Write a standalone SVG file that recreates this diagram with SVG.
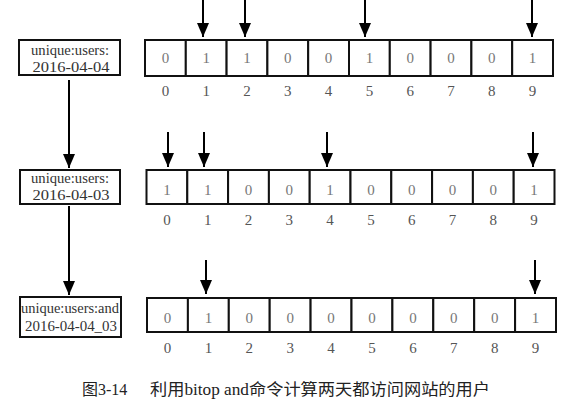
<svg xmlns="http://www.w3.org/2000/svg" width="582" height="413" viewBox="0 0 582 413">
<defs>
<marker id="ah" markerUnits="userSpaceOnUse" markerWidth="14" markerHeight="12" viewBox="0 0 14 12" refX="14" refY="6" orient="auto">
<path d="M0,0 L14,6 L0,12 Z" fill="#000"/>
</marker>
<style>
.cell{fill:#fff;stroke:#111;stroke-width:2}
.key{fill:#fff;stroke:#111;stroke-width:2}
text{font-family:'Liberation Serif','Times New Roman','DejaVu Serif',serif}
.v{font-size:15px;fill:#777;text-anchor:middle}
.i{font-size:15px;fill:#555;text-anchor:middle}
.k1{font-size:14px;fill:#333;text-anchor:middle}
.k2{font-size:15.5px;fill:#333;text-anchor:middle}
.arr{stroke:#000;stroke-width:2;fill:none}
.cap{font-family:'Liberation Serif','Noto Sans CJK SC',serif;font-size:16px;fill:#222}
</style>
</defs>
<rect width="582" height="413" fill="#fff"/>

<g id="key1">
<rect class="key" x="19" y="40" width="101" height="35"/>
<text class="k1" x="70" y="55" textLength="78" lengthAdjust="spacingAndGlyphs">unique:users:</text>
<text class="k2" x="71" y="72" textLength="77" lengthAdjust="spacingAndGlyphs">2016-04-04</text>
</g>
<g id="key2">
<rect class="key" x="20" y="170" width="100" height="34"/>
<text class="k1" x="70" y="183" textLength="78" lengthAdjust="spacingAndGlyphs">unique:users:</text>
<text class="k2" x="71" y="200" textLength="77" lengthAdjust="spacingAndGlyphs">2016-04-03</text>
</g>
<g id="key3">
<rect class="key" x="20" y="297" width="101" height="40"/>
<text class="k1" x="70" y="313" textLength="98" lengthAdjust="spacingAndGlyphs">unique:users:and</text>
<text class="k2" x="71" y="331" textLength="92" lengthAdjust="spacingAndGlyphs">2016-04-04_03</text>
</g>

<g id="row1">
<rect class="cell" x="145" y="40" width="40.8" height="36"/>
<rect class="cell" x="185.8" y="40" width="40.8" height="36"/>
<rect class="cell" x="226.6" y="40" width="40.8" height="36"/>
<rect class="cell" x="267.4" y="40" width="40.8" height="36"/>
<rect class="cell" x="308.2" y="40" width="40.8" height="36"/>
<rect class="cell" x="349" y="40" width="40.8" height="36"/>
<rect class="cell" x="389.8" y="40" width="40.8" height="36"/>
<rect class="cell" x="430.6" y="40" width="40.8" height="36"/>
<rect class="cell" x="471.4" y="40" width="40.8" height="36"/>
<rect class="cell" x="512.2" y="40" width="40.8" height="36"/>
<text class="v" x="165.4" y="63">0</text>
<text class="v" x="206.2" y="63">1</text>
<text class="v" x="247" y="63">1</text>
<text class="v" x="287.8" y="63">0</text>
<text class="v" x="328.6" y="63">0</text>
<text class="v" x="369.4" y="63">1</text>
<text class="v" x="410.2" y="63">0</text>
<text class="v" x="451" y="63">0</text>
<text class="v" x="491.8" y="63">0</text>
<text class="v" x="532.6" y="63">1</text>
<text class="i" x="165.4" y="96">0</text>
<text class="i" x="206.2" y="96">1</text>
<text class="i" x="247" y="96">2</text>
<text class="i" x="287.8" y="96">3</text>
<text class="i" x="328.6" y="96">4</text>
<text class="i" x="369.4" y="96">5</text>
<text class="i" x="410.2" y="96">6</text>
<text class="i" x="451" y="96">7</text>
<text class="i" x="491.8" y="96">8</text>
<text class="i" x="532.6" y="96">9</text>
</g>

<g id="row2">
<rect class="cell" x="146.5" y="170" width="40.8" height="34"/>
<rect class="cell" x="187.3" y="170" width="40.8" height="34"/>
<rect class="cell" x="228.1" y="170" width="40.8" height="34"/>
<rect class="cell" x="268.9" y="170" width="40.8" height="34"/>
<rect class="cell" x="309.7" y="170" width="40.8" height="34"/>
<rect class="cell" x="350.5" y="170" width="40.8" height="34"/>
<rect class="cell" x="391.3" y="170" width="40.8" height="34"/>
<rect class="cell" x="432.1" y="170" width="40.8" height="34"/>
<rect class="cell" x="472.9" y="170" width="40.8" height="34"/>
<rect class="cell" x="513.7" y="170" width="40.8" height="34"/>
<text class="v" x="166.9" y="195">1</text>
<text class="v" x="207.7" y="195">1</text>
<text class="v" x="248.5" y="195">0</text>
<text class="v" x="289.3" y="195">0</text>
<text class="v" x="330.1" y="195">1</text>
<text class="v" x="370.9" y="195">0</text>
<text class="v" x="411.7" y="195">0</text>
<text class="v" x="452.5" y="195">0</text>
<text class="v" x="493.3" y="195">0</text>
<text class="v" x="534.1" y="195">1</text>
<text class="i" x="166.9" y="225">0</text>
<text class="i" x="207.7" y="225">1</text>
<text class="i" x="248.5" y="225">2</text>
<text class="i" x="289.3" y="225">3</text>
<text class="i" x="330.1" y="225">4</text>
<text class="i" x="370.9" y="225">5</text>
<text class="i" x="411.7" y="225">6</text>
<text class="i" x="452.5" y="225">7</text>
<text class="i" x="493.3" y="225">8</text>
<text class="i" x="534.1" y="225">9</text>
</g>

<g id="row3">
<rect class="cell" x="147" y="298" width="40.9" height="34"/>
<rect class="cell" x="187.9" y="298" width="40.9" height="34"/>
<rect class="cell" x="228.8" y="298" width="40.9" height="34"/>
<rect class="cell" x="269.7" y="298" width="40.9" height="34"/>
<rect class="cell" x="310.6" y="298" width="40.9" height="34"/>
<rect class="cell" x="351.5" y="298" width="40.9" height="34"/>
<rect class="cell" x="392.4" y="298" width="40.9" height="34"/>
<rect class="cell" x="433.3" y="298" width="40.9" height="34"/>
<rect class="cell" x="474.2" y="298" width="40.9" height="34"/>
<rect class="cell" x="515.1" y="298" width="40.9" height="34"/>
<text class="v" x="167.5" y="323">0</text>
<text class="v" x="208.4" y="323">1</text>
<text class="v" x="249.3" y="323">0</text>
<text class="v" x="290.2" y="323">0</text>
<text class="v" x="331.1" y="323">0</text>
<text class="v" x="372" y="323">0</text>
<text class="v" x="412.9" y="323">0</text>
<text class="v" x="453.8" y="323">0</text>
<text class="v" x="494.7" y="323">0</text>
<text class="v" x="535.6" y="323">1</text>
<text class="i" x="167.5" y="353">0</text>
<text class="i" x="208.4" y="353">1</text>
<text class="i" x="249.3" y="353">2</text>
<text class="i" x="290.2" y="353">3</text>
<text class="i" x="331.1" y="353">4</text>
<text class="i" x="372" y="353">5</text>
<text class="i" x="412.9" y="353">6</text>
<text class="i" x="453.8" y="353">7</text>
<text class="i" x="494.7" y="353">8</text>
<text class="i" x="535.6" y="353">9</text>
</g>

<g id="connectors">
<line class="arr" x1="69" y1="80" x2="69" y2="168" marker-end="url(#ah)"/>
<line class="arr" x1="69" y1="206" x2="69" y2="295" marker-end="url(#ah)"/>
<line class="arr" x1="203" y1="0" x2="203" y2="37" marker-end="url(#ah)"/>
<line class="arr" x1="245" y1="0" x2="245" y2="37" marker-end="url(#ah)"/>
<line class="arr" x1="365" y1="0" x2="365" y2="37" marker-end="url(#ah)"/>
<line class="arr" x1="532" y1="0" x2="532" y2="37" marker-end="url(#ah)"/>
<line class="arr" x1="168" y1="132" x2="168" y2="167" marker-end="url(#ah)"/>
<line class="arr" x1="204" y1="132" x2="204" y2="167" marker-end="url(#ah)"/>
<line class="arr" x1="327" y1="132" x2="327" y2="167" marker-end="url(#ah)"/>
<line class="arr" x1="533" y1="132" x2="533" y2="167" marker-end="url(#ah)"/>
<line class="arr" x1="206" y1="260" x2="206" y2="294" marker-end="url(#ah)"/>
<line class="arr" x1="535" y1="260" x2="535" y2="294" marker-end="url(#ah)"/>
</g>

<g id="caption">
<text class="cap" x="82" y="395">图3-14</text>
<text class="cap" x="150" y="395" textLength="340" lengthAdjust="spacingAndGlyphs">利用bitop and命令计算两天都访问网站的用户</text>
</g>
</svg>
